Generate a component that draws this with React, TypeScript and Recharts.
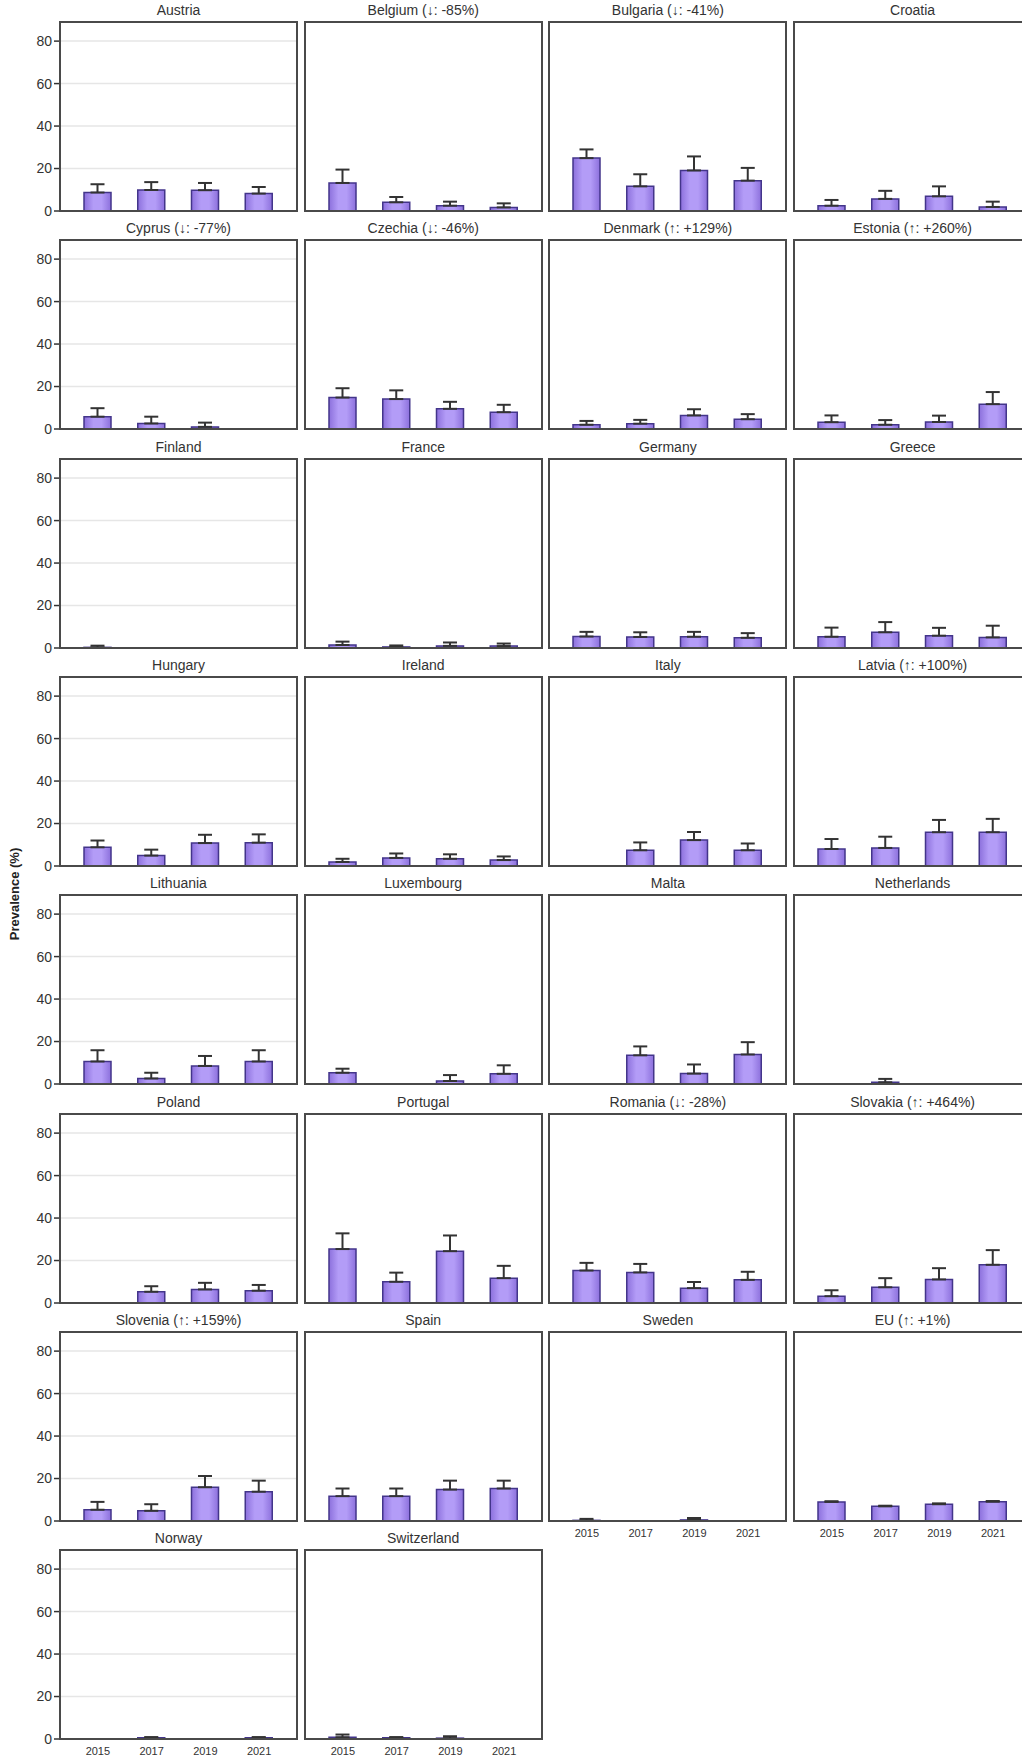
import React from 'react';
import {
  BarChart,
  Bar,
  XAxis,
  YAxis,
  CartesianGrid,
  ErrorBar,
} from 'recharts';

const years = ['2015', '2017', '2019', '2021'];

const panelTitles = [
  'Austria', 'Belgium (↓: -85%)', 'Bulgaria (↓: -41%)', 'Croatia',
  'Cyprus (↓: -77%)', 'Czechia (↓: -46%)', 'Denmark (↑: +129%)', 'Estonia (↑: +260%)',
  'Finland', 'France', 'Germany', 'Greece',
  'Hungary', 'Ireland', 'Italy', 'Latvia (↑: +100%)',
  'Lithuania', 'Luxembourg', 'Malta', 'Netherlands',
  'Poland', 'Portugal', 'Romania (↓: -28%)', 'Slovakia (↑: +464%)',
  'Slovenia (↑: +159%)', 'Spain', 'Sweden', 'EU (↑: +1%)',
  'Norway', 'Switzerland',
];

// prevalence (%) per panel, in year order; null = no survey data
const prevalence: (number | null)[][] = [
  [8.7, 9.9, 9.8, 8.2],
  [13.2, 4.1, 2.5, 1.7],
  [24.9, 11.6, 19.1, 14.3],
  [2.5, 5.7, 6.9, 1.9],
  [5.8, 2.6, 1.0, null],
  [14.8, 14.1, 9.5, 7.9],
  [2.0, 2.5, 6.4, 4.6],
  [3.2, 2.0, 3.3, 11.7],
  [0.3, null, null, null],
  [1.4, 0.5, 1.0, 0.9],
  [5.4, 5.2, 5.3, 4.8],
  [5.3, 7.4, 5.8, 5.0],
  [8.8, 4.9, 10.8, 11.0],
  [1.9, 3.8, 3.4, 2.8],
  [null, 7.4, 12.2, 7.4],
  [8.0, 8.5, 15.9, 15.9],
  [10.6, 2.6, 8.5, 10.6],
  [5.3, null, 1.4, 4.8],
  [null, 13.5, 4.9, 13.9],
  [null, 0.8, null, null],
  [null, 5.3, 6.4, 5.8],
  [25.4, 10.0, 24.4, 11.7],
  [15.3, 14.4, 7.0, 10.9],
  [3.2, 7.4, 11.1, 18.0],
  [5.3, 4.8, 15.9, 13.8],
  [11.7, 11.7, 14.8, 15.3],
  [0.3, null, 0.5, null],
  [9.0, 6.9, 7.9, 9.1],
  [null, 0.6, null, 0.6],
  [0.8, 0.6, 0.4, null],
];

// upper end of the error bar per panel
const upperBound: (number | null)[][] = [
  [12.6, 13.6, 13.2, 11.3],
  [19.5, 6.6, 4.4, 3.6],
  [29.0, 17.3, 25.7, 20.3],
  [5.2, 9.5, 11.6, 4.4],
  [9.8, 5.8, 3.0, null],
  [19.2, 18.2, 12.8, 11.4],
  [3.8, 4.3, 9.3, 7.0],
  [6.4, 4.2, 6.3, 17.4],
  [1.1, null, null, null],
  [3.0, 1.2, 2.6, 2.1],
  [7.6, 7.4, 7.6, 7.0],
  [9.6, 12.2, 9.5, 10.5],
  [12.0, 7.7, 14.7, 14.9],
  [3.4, 5.9, 5.5, 4.5],
  [null, 11.1, 16.0, 10.6],
  [12.7, 13.8, 21.7, 22.2],
  [15.9, 5.3, 13.2, 15.9],
  [7.2, null, 4.2, 8.8],
  [null, 17.7, 9.2, 19.7],
  [null, 2.4, null, null],
  [null, 7.9, 9.5, 8.5],
  [32.8, 14.3, 31.8, 17.5],
  [18.9, 18.4, 9.9, 14.7],
  [6.0, 11.7, 16.4, 24.9],
  [9.0, 7.9, 21.2, 19.0],
  [15.3, 15.3, 19.0, 19.0],
  [1.0, null, 1.4, null],
  [9.3, 7.2, 8.3, 9.4],
  [null, 0.9, null, 0.9],
  [2.1, 0.9, 1.3, null],
];

const yTicks = [0, 20, 40, 60, 80];

const COLS = 4;
const PLOT_W = 237;
const PLOT_H = 189;
const AXIS_W = 45;
const TOP_M = 24;
const X_H = 20;
const labelledPanels = [26, 27, 28, 29];

function Panel({ index }: { index: number }) {
  const row = Math.floor(index / COLS);
  const col = index % COLS;
  const zeroY = 211 + 218.3 * row;
  const plotLeft = 60 + 244.7 * col;

  const data = years.map((year, i) => {
    const v = prevalence[index][i];
    const u = upperBound[index][i];
    return {
      year,
      value: v,
      err: v == null || u == null ? null : [0, u - v],
    };
  });

  const showX = labelledPanels.includes(index);
  const showY = col === 0;
  const gid = `barFill${index}`;

  return (
    <div
      style={{
        position: 'absolute',
        left: plotLeft - AXIS_W,
        top: zeroY - PLOT_H - TOP_M,
        width: AXIS_W + PLOT_W + 2,
        height: TOP_M + PLOT_H + X_H,
      }}
    >
      <BarChart
        width={AXIS_W + PLOT_W + 2}
        height={TOP_M + PLOT_H + X_H}
        data={data}
        margin={{ top: TOP_M, right: 2, left: 0, bottom: 0 }}
      >
        <defs>
          <linearGradient id={gid} x1="0" y1="0" x2="1" y2="0">
            <stop offset="0%" stopColor="#8c70dc" />
            <stop offset="35%" stopColor="#b39cf7" />
            <stop offset="65%" stopColor="#b39cf7" />
            <stop offset="100%" stopColor="#8c70dc" />
          </linearGradient>
        </defs>
        <CartesianGrid vertical={false} stroke="#e6e6e6" strokeWidth={1.5} />
        <XAxis
          dataKey="year"
          padding={{ left: 11, right: 11 }}
          height={X_H}
          interval={0}
          axisLine={false}
          tickLine={false}
          tick={showX ? { fill: '#333', fontSize: 11 } : false}
        />
        <YAxis
          width={AXIS_W}
          domain={[0, 89]}
          ticks={yTicks}
          axisLine={false}
          tickLine={showY ? { stroke: '#333', strokeWidth: 1.5 } : false}
          tickSize={6}
          tick={showY ? { fill: '#333', fontSize: 14 } : false}
        />
        <Bar
          dataKey="value"
          fill={`url(#${gid})`}
          stroke="#43358a"
          strokeWidth={1.5}
          barSize={27}
          isAnimationActive={false}
        >
          <ErrorBar
            dataKey="err"
            width={7}
            stroke="#333"
            strokeWidth={2}
            direction="y"
          />
        </Bar>
      </BarChart>
      {/* panel frame */}
      <div
        style={{
          position: 'absolute',
          left: AXIS_W - 1,
          top: TOP_M - 1,
          width: PLOT_W + 2,
          height: PLOT_H + 2,
          boxSizing: 'border-box',
          border: '2px solid #4a4a4a',
          pointerEvents: 'none',
        }}
      />
      <div
        style={{
          position: 'absolute',
          left: AXIS_W,
          top: TOP_M - 20,
          width: PLOT_W,
          height: 16,
          lineHeight: '16px',
          textAlign: 'center',
          fontSize: 14,
          color: '#333',
          whiteSpace: 'nowrap',
        }}
      >
        {panelTitles[index]}
      </div>
    </div>
  );
}

export default function App() {
  return (
    <div
      style={{
        position: 'absolute',
        left: 0,
        top: 0,
        width: 1022,
        height: 1757,
        overflow: 'hidden',
        background: '#fff',
        fontFamily: '"Liberation Sans", Arial, sans-serif',
      }}
    >
      {panelTitles.map((_, i) => (
        <Panel key={i} index={i} />
      ))}
      <div
        style={{
          position: 'absolute',
          left: 15 - 100,
          top: 894 - 9,
          width: 200,
          height: 18,
          lineHeight: '18px',
          textAlign: 'center',
          transform: 'rotate(-90deg)',
          fontSize: 13,
          fontWeight: 'bold',
          color: '#222',
        }}
      >
        Prevalence (%)
      </div>
    </div>
  );
}
